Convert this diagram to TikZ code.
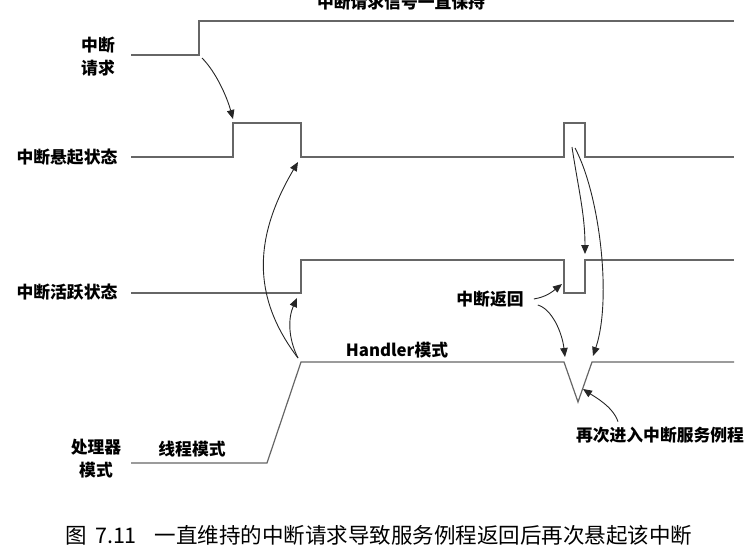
\documentclass[tikz,border=0pt]{standalone}
\usepackage{fontspec}
\setmainfont{Noto Sans CJK SC}
\usetikzlibrary{arrows.meta}

\begin{document}
\begin{tikzpicture}[
    x=1pt, y=-1pt,
    every node/.style={font=\fontsize{16.8}{23}\selectfont\bfseries, inner sep=1pt},
    wave/.style={draw=black!60, line width=1.2pt},
    curved/.style={draw=black!85, line width=0.9pt, -{Triangle[length=9pt,width=7.5pt]}}
]
    \useasboundingbox (0,0) rectangle (750,555);

    % labels
    \node (toplbl) at (401,2) {中断请求信号一直保持};
    \node[align=center] (reqlbl) at (98,57) {中断\\请求};
    \node (pendlbl) at (67,157) {中断悬起状态};
    \node (actlbl) at (67,292) {中断活跃状态};
    \node[align=center] (modelbl) at (96,459) {处理器\\模式};
    \node (thrlbl) at (192,449) {线程模式};
    \node (hdllbl) at (397,350) {Handler模式};
    \node (retlbl) at (490,299) {中断返回};
    \node (relbl) at (660,435) {再次进入中断服务例程};
    \node[font=\fontsize{21.5}{26}\selectfont] (cap) at (379,535)
        {图\hspace{8pt}7.11\hspace{18pt}一直维持的中断请求导致服务例程返回后再次悬起该中断};

    % signals
    \draw[wave] (131,55) -- (199,55) -- (199,21) -- (734,21);
    \draw[wave] (131,157) -- (233,157) -- (233,123) -- (301,123) -- (301,157)
        -- (564,157) -- (564,123) -- (585,123) -- (585,157) -- (734,157);
    \draw[wave] (131,293) -- (301,293) -- (301,260) -- (564,260) -- (564,293)
        -- (585,293) -- (585,260) -- (734,260);
    \draw[wave] (131,463) -- (267,463) -- (301,362) -- (564,362) -- (578,402)
        -- (592,362) -- (734,362);

    % arrow ends
    \coordinate (reqrise) at (202,58);
    \coordinate (pendrise) at (233,119);
    \coordinate (modesw) at (298,358);
    \coordinate (pendfall) at (298,162);
    \coordinate (actrise) at (297,298);
    \coordinate (pend2a) at (572,147);
    \coordinate (pend2b) at (575,148);
    \coordinate (act2rise) at (585,254);
    \coordinate (hdl2) at (593,356);
    \coordinate (actdip) at (562,284);
    \coordinate (hdlend) at (565,357);
    \coordinate (vee) at (583,389);

    \draw[curved] (reqrise) .. controls +(14,14) and +(-6,-22) .. (pendrise);
    \draw[curved] (modesw) .. controls +(-48,-63) and +(-43,73) .. (pendfall);
    \draw[curved] (modesw) .. controls +(-10,-20) and +(-9,20) .. (actrise);
    \draw[curved] (pend2a) .. controls +(6,40) and +(0,-40) .. (act2rise);
    \draw[curved] (pend2b) .. controls +(25,47) and +(19,-56) .. (hdl2);
    \draw[curved] ([xshift=9]retlbl.east) .. controls +(12,-2) and +(-10,8) .. (actdip);
    \draw[curved] ([shift={(13,6)}]retlbl.east) .. controls +(14,4) and +(-3,-25) .. (hdlend);
    \draw[curved] ([shift={(-42,-4)}]relbl.north) .. controls +(-5,-15) and +(12,8) .. (vee);
\end{tikzpicture}
\end{document}
